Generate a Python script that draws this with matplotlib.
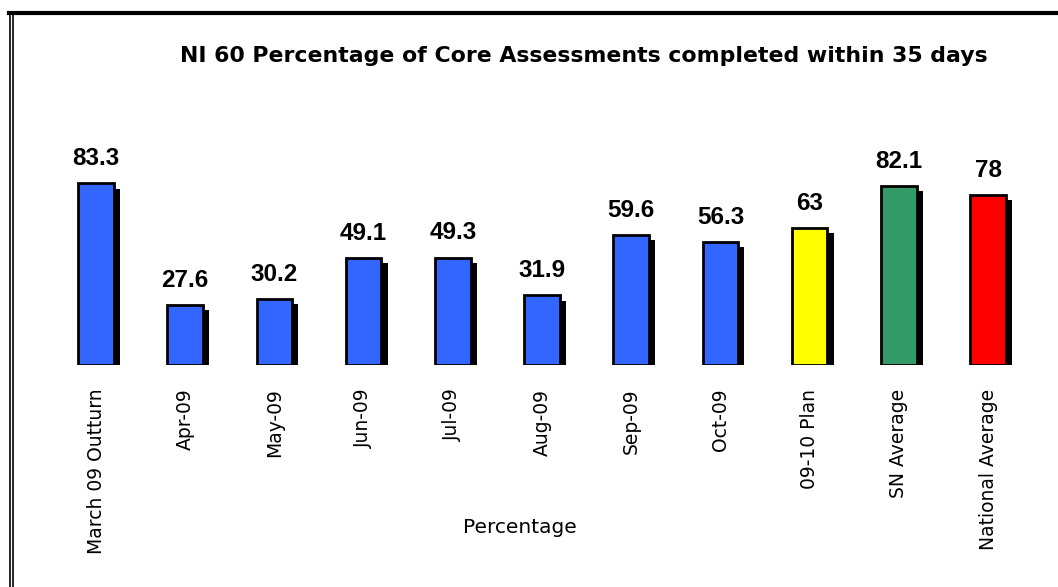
import matplotlib.pyplot as plt
from matplotlib.lines import Line2D

categories = ["March 09 Outturn", "Apr-09", "May-09", "Jun-09", "Jul-09", "Aug-09",
              "Sep-09", "Oct-09", "09-10 Plan", "SN Average", "National Average"]
values = [83.3, 27.6, 30.2, 49.1, 49.3, 31.9, 59.6, 56.3, 63, 82.1, 78]
value_labels = ["83.3", "27.6", "30.2", "49.1", "49.3", "31.9", "59.6", "56.3", "63", "82.1", "78"]
colors = ["#3366ff"] * 8 + ["#ffff00", "#339966", "#ff0000"]

W, H = 1058, 587
fig = plt.figure(figsize=(W / 100, H / 100), dpi=100)

# plot area placed in pixels: bars 89.2 px apart, baseline at y=365
left, right = 51.4, 1032.6
bottom, top = 365, 147
ax = fig.add_axes([left / W, (H - bottom) / H, (right - left) / W, (bottom - top) / H])
ax.set_xlim(-0.5, 10.5)
ax.set_ylim(0, 100)

x = range(len(values))
# drop shadow: a black copy nudged right and down
ax.bar([i + 0.07 for i in x], [v - 1.4 for v in values], bottom=-1.0, width=0.40,
       color="black", zorder=1)
ax.bar(x, values, width=0.40, color=colors, edgecolor="black", linewidth=2, zorder=2)

for i, (v, lab) in enumerate(zip(values, value_labels)):
    ax.annotate(lab, (i, v), xytext=(0, 13), textcoords="offset points",
                ha="center", va="baseline", fontsize=17.5, fontweight="bold",
                family="Liberation Sans")

ax.set_xticks(list(x))
ax.set_xticklabels(categories, rotation=90, fontsize=13.5, family="DejaVu Sans")
ax.tick_params(axis="x", length=0, pad=17)
ax.set_yticks([])
for s in ax.spines.values():
    s.set_visible(False)
ax.patch.set_alpha(0)

fig.text(584 / W, 1 - 62 / H, "NI 60 Percentage of Core Assessments completed within 35 days",
         ha="center", va="baseline", fontsize=15.8, fontweight="bold", family="DejaVu Sans")
fig.text(520 / W, 1 - 533 / H, "Percentage", ha="center", va="baseline", fontsize=14.5,
         family="DejaVu Sans")

# outer frame: thick top edge, double left edge
fig.add_artist(Line2D([9 / W, 1], [1 - 13 / H, 1 - 13 / H], color="black", lw=3,
                      transform=fig.transFigure))
for xp in (9.5, 12.5):
    fig.add_artist(Line2D([xp / W, xp / W], [0, 1 - 12 / H], color="black", lw=1.2,
                          transform=fig.transFigure))

fig.savefig("out.png", dpi=100)
